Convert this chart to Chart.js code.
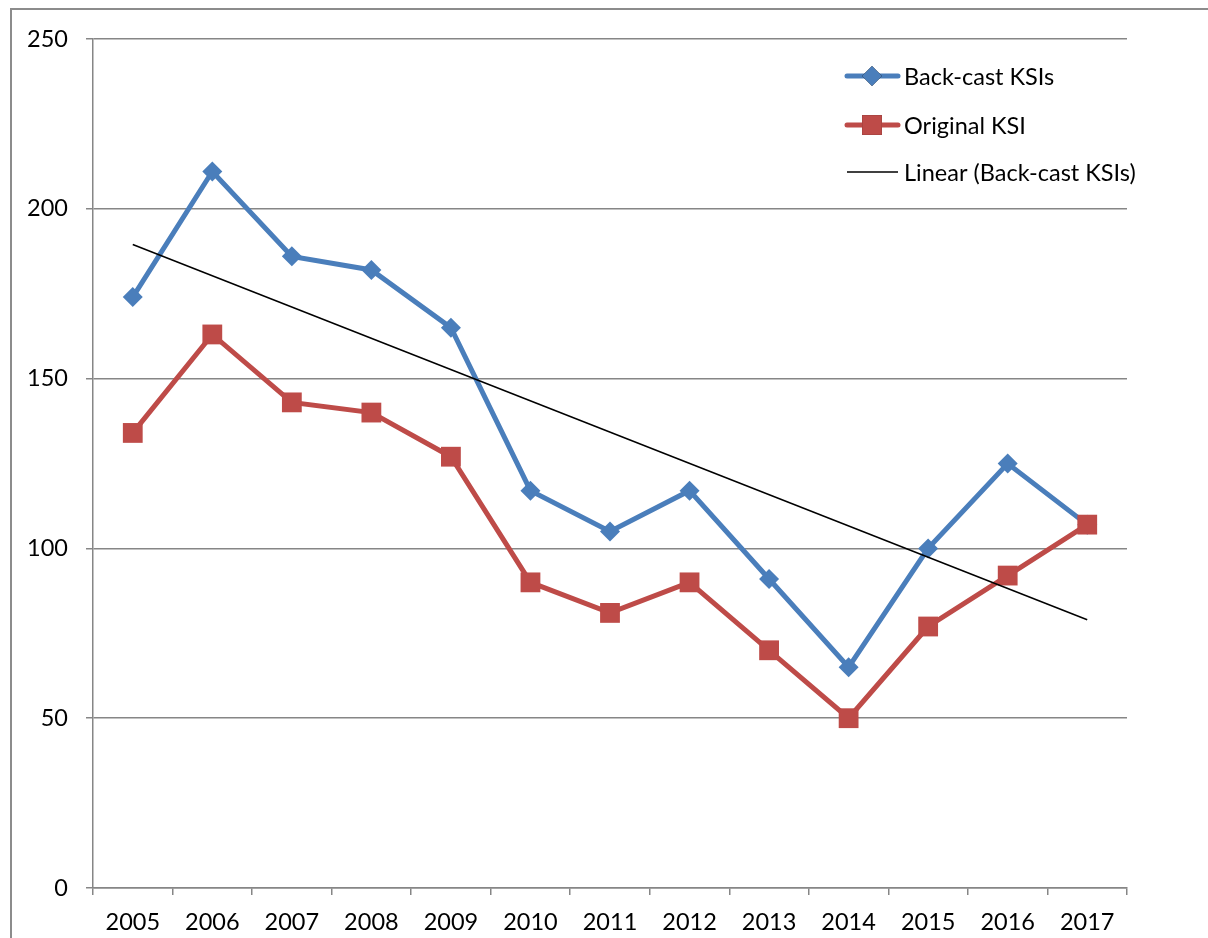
<!DOCTYPE html>
<html>
<head>
<meta charset="utf-8">
<script src="https://cdn.jsdelivr.net/npm/chart.js@4.4.1/dist/chart.umd.min.js"></script>
<style>
    body { margin: 0; background: #fff; }
    #wrap { position: relative; width: 1208px; height: 938px; overflow: hidden; }
    #frame { position: absolute; left: 10px; top: 8px; width: 1300px; height: 1000px; border-top: 2px solid #8c8c8c; border-left: 2px solid #8c8c8c; }
    canvas { position: absolute; left: 0; top: 0; }
</style>
</head>
<body>
<div id="wrap">
    <div id="frame"></div>
    <canvas id="ksiChart" width="1208" height="938"></canvas>
</div>
<script>
const years = ['2005', '2006', '2007', '2008', '2009', '2010', '2011', '2012', '2013', '2014', '2015', '2016', '2017'];
const backCast = [174, 211, 186, 182, 165, 117, 105, 117, 91, 65, 100, 125, 107];
const original = [134, 163, 143, 140, 127, 90, 81, 90, 70, 50, 77, 92, 107];
// trend line at its two ends
const trendBackCast = [189.5, null, null, null, null, null, null, null, null, null, null, null, 79];
const yTicks = [0, 50, 100, 150, 200, 250];

const FONT = 'Lato, "Open Sans", sans-serif';
const GRID = '#868686';

// legend drawn inside the plot, like the original
const innerLegend = {
    id: 'innerLegend',
    afterDraw(chart) {
        const ctx = chart.ctx;
        const rows = [76, 125, 172];
        ctx.save();
        chart.data.datasets.forEach((ds, i) => {
            const y = rows[i];
            ctx.strokeStyle = ds.borderColor;
            ctx.lineWidth = ds.borderWidth;
            ctx.lineCap = ds.pointStyle ? 'round' : 'butt';
            ctx.beginPath();
            ctx.moveTo(847, y);
            ctx.lineTo(898, y);
            ctx.stroke();
            if (ds.pointStyle) {
                Chart.helpers.drawPoint(ctx, {
                    pointStyle: ds.pointStyle,
                    radius: ds.pointRadius,
                    borderWidth: 0
                }, 872, y);
                ctx.fillStyle = ds.backgroundColor;
                ctx.fill();
            }
            ctx.fillStyle = '#000';
            ctx.font = '23.5px ' + FONT;
            ctx.textBaseline = 'middle';
            ctx.textAlign = 'left';
            ctx.fillText(ds.label, 904, y + 1);
        });
        ctx.restore();
    }
};

new Chart(document.getElementById('ksiChart').getContext('2d'), {
    type: 'line',
    data: {
        labels: years,
        datasets: [{
            label: 'Back-cast KSIs',
            data: backCast,
            order: 2,
            borderColor: '#4a7ebb',
            backgroundColor: '#4a7ebb',
            borderWidth: 5,
            pointStyle: 'rectRot',
            pointRadius: 10,
            pointBorderWidth: 0,
            tension: 0
        }, {
            label: 'Original KSI',
            data: original,
            order: 1,
            borderColor: '#be4b48',
            backgroundColor: '#be4b48',
            borderWidth: 5,
            pointStyle: 'rect',
            pointRadius: 14,
            pointBorderWidth: 0,
            tension: 0
        }, {
            label: 'Linear (Back-cast KSIs)',
            data: trendBackCast,
            order: 0,
            borderColor: '#000',
            backgroundColor: '#000',
            borderWidth: 1.5,
            pointRadius: 0,
            pointStyle: false,
            spanGaps: true
        }]
    },
    options: {
        responsive: false,
        animation: false,
        layout: { padding: { top: 39, right: 81, left: 0, bottom: 0 } },
        plugins: {
            legend: { display: false },
            tooltip: { enabled: false }
        },
        scales: {
            x: {
                offset: true,
                grid: { offset: true, drawOnChartArea: false, color: GRID, lineWidth: 1.5, tickLength: 7 },
                border: { color: GRID, width: 1.5 },
                ticks: { color: '#000', font: { family: FONT, size: 23.5 }, padding: 13, maxRotation: 0 },
                afterFit(scale) { scale.height = 50; }
            },
            y: {
                min: 0,
                max: 250,
                afterBuildTicks(scale) { scale.ticks = yTicks.map(v => ({ value: v })); },
                grid: { color: GRID, lineWidth: 1.5, tickLength: 7 },
                border: { color: GRID, width: 1.5 },
                ticks: { color: '#000', font: { family: FONT, size: 23.5 }, padding: 18 },
                afterFit(scale) { scale.width = 93; }
            }
        }
    },
    plugins: [innerLegend]
});
</script>
</body>
</html>
